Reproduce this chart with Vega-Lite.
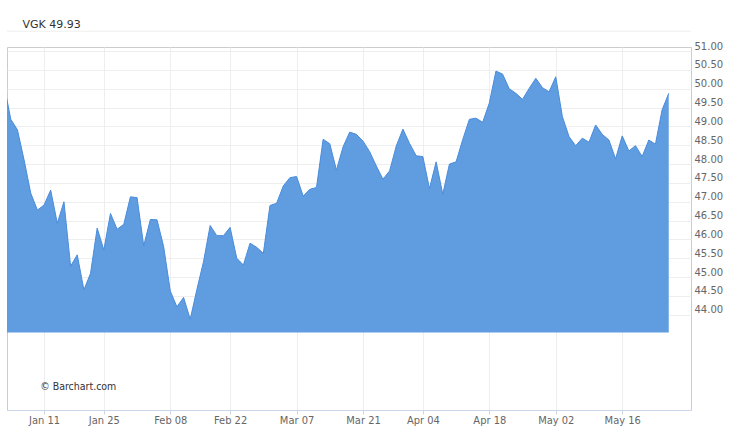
{
  "$schema": "https://vega.github.io/schema/vega-lite/v6.json",
  "width": 684,
  "height": 363,
  "autosize": {"type": "none"},
  "padding": {"left": 7, "top": 47, "right": 59, "bottom": 23},
  "background": "white",
  "config": {
    "view": {"stroke": "#cccccc", "strokeWidth": 1},
    "axis": {"labelFont": "DejaVu Sans", "labelColor": "#666666"},
    "axisX": {
      "title": null,
      "grid": true,
      "gridColor": "#eeeeee",
      "tickColor": "#ccd6eb",
      "tickSize": 4,
      "domainColor": "#ccd6eb",
      "labelFont": "DejaVu Sans Condensed",
      "labelFontSize": 11,
      "labelPadding": 0,
      "labelFlush": false,
      "labelOverlap": false
    },
    "axisY": {
      "title": null,
      "orient": "right",
      "grid": true,
      "gridColor": "#eeeeee",
      "ticks": false,
      "domain": false,
      "labelAlign": "left",
      "labelBaseline": "bottom",
      "labelPadding": 3,
      "labelFontSize": 10,
      "labelOverlap": false
    }
  },
  "title": {
    "text": "VGK 49.93",
    "anchor": "start",
    "frame": "group",
    "dx": 15.5,
    "offset": 1,
    "font": "DejaVu Sans",
    "fontSize": 11,
    "fontWeight": "normal",
    "color": "#333333"
  },
  "encoding": {
    "x": {
      "field": "t",
      "type": "quantitative",
      "scale": {"domain": [-0.57, 102.35], "nice": false, "zero": false},
      "axis": {
        "orient": "bottom",
        "values": [5, 14, 24, 33, 43, 53, 62, 72, 82, 92],
        "labelExpr": "['Jan 11','Jan 25','Feb 08','Feb 22','Mar 07','Mar 21','Apr 04','Apr 18','May 02','May 16'][indexof([5,14,24,33,43,53,62,72,82,92], datum.value)]"
      }
    },
    "y": {
      "field": "close",
      "type": "quantitative",
      "scale": {"domain": [41.47, 51.11], "nice": false, "zero": false},
      "axis": {
        "orient": "right",
        "values": [44, 44.5, 45, 45.5, 46, 46.5, 47, 47.5, 48, 48.5, 49, 49.5, 50, 50.5, 51],
        "format": ".2f"
      }
    }
  },
  "data": {
    "values": [
      {"date": "2015-12-31", "t": -1, "close": 50.09},
      {"date": "2016-01-04", "t": 0, "close": 49.19},
      {"date": "2016-01-05", "t": 1, "close": 48.91},
      {"date": "2016-01-06", "t": 2, "close": 48.11},
      {"date": "2016-01-07", "t": 3, "close": 47.23},
      {"date": "2016-01-08", "t": 4, "close": 46.78},
      {"date": "2016-01-11", "t": 5, "close": 46.91},
      {"date": "2016-01-12", "t": 6, "close": 47.31},
      {"date": "2016-01-13", "t": 7, "close": 46.43},
      {"date": "2016-01-14", "t": 8, "close": 47.0},
      {"date": "2016-01-15", "t": 9, "close": 45.29},
      {"date": "2016-01-19", "t": 10, "close": 45.59},
      {"date": "2016-01-20", "t": 11, "close": 44.66},
      {"date": "2016-01-21", "t": 12, "close": 45.1},
      {"date": "2016-01-22", "t": 13, "close": 46.3},
      {"date": "2016-01-25", "t": 14, "close": 45.72},
      {"date": "2016-01-26", "t": 15, "close": 46.69},
      {"date": "2016-01-27", "t": 16, "close": 46.27},
      {"date": "2016-01-28", "t": 17, "close": 46.4},
      {"date": "2016-01-29", "t": 18, "close": 47.13},
      {"date": "2016-02-01", "t": 19, "close": 47.11},
      {"date": "2016-02-02", "t": 20, "close": 45.83},
      {"date": "2016-02-03", "t": 21, "close": 46.53},
      {"date": "2016-02-04", "t": 22, "close": 46.52},
      {"date": "2016-02-05", "t": 23, "close": 45.81},
      {"date": "2016-02-08", "t": 24, "close": 44.63},
      {"date": "2016-02-09", "t": 25, "close": 44.21},
      {"date": "2016-02-10", "t": 26, "close": 44.46},
      {"date": "2016-02-11", "t": 27, "close": 43.88},
      {"date": "2016-02-12", "t": 28, "close": 44.67},
      {"date": "2016-02-16", "t": 29, "close": 45.41},
      {"date": "2016-02-17", "t": 30, "close": 46.37},
      {"date": "2016-02-18", "t": 31, "close": 46.1},
      {"date": "2016-02-19", "t": 32, "close": 46.1},
      {"date": "2016-02-22", "t": 33, "close": 46.32},
      {"date": "2016-02-23", "t": 34, "close": 45.5},
      {"date": "2016-02-24", "t": 35, "close": 45.32},
      {"date": "2016-02-25", "t": 36, "close": 45.9},
      {"date": "2016-02-26", "t": 37, "close": 45.79},
      {"date": "2016-02-29", "t": 38, "close": 45.63},
      {"date": "2016-03-01", "t": 39, "close": 46.9},
      {"date": "2016-03-02", "t": 40, "close": 46.96},
      {"date": "2016-03-03", "t": 41, "close": 47.42},
      {"date": "2016-03-04", "t": 42, "close": 47.64},
      {"date": "2016-03-07", "t": 43, "close": 47.67},
      {"date": "2016-03-08", "t": 44, "close": 47.15},
      {"date": "2016-03-09", "t": 45, "close": 47.33},
      {"date": "2016-03-10", "t": 46, "close": 47.38},
      {"date": "2016-03-11", "t": 47, "close": 48.66},
      {"date": "2016-03-14", "t": 48, "close": 48.54},
      {"date": "2016-03-15", "t": 49, "close": 47.84},
      {"date": "2016-03-16", "t": 50, "close": 48.46},
      {"date": "2016-03-17", "t": 51, "close": 48.85},
      {"date": "2016-03-18", "t": 52, "close": 48.79},
      {"date": "2016-03-21", "t": 53, "close": 48.61},
      {"date": "2016-03-22", "t": 54, "close": 48.33},
      {"date": "2016-03-23", "t": 55, "close": 47.95},
      {"date": "2016-03-24", "t": 56, "close": 47.6},
      {"date": "2016-03-28", "t": 57, "close": 47.82},
      {"date": "2016-03-29", "t": 58, "close": 48.48},
      {"date": "2016-03-30", "t": 59, "close": 48.93},
      {"date": "2016-03-31", "t": 60, "close": 48.55},
      {"date": "2016-04-01", "t": 61, "close": 48.22},
      {"date": "2016-04-04", "t": 62, "close": 48.2},
      {"date": "2016-04-05", "t": 63, "close": 47.35},
      {"date": "2016-04-06", "t": 64, "close": 48.06},
      {"date": "2016-04-07", "t": 65, "close": 47.2},
      {"date": "2016-04-08", "t": 66, "close": 48.0},
      {"date": "2016-04-11", "t": 67, "close": 48.06},
      {"date": "2016-04-12", "t": 68, "close": 48.65},
      {"date": "2016-04-13", "t": 69, "close": 49.19},
      {"date": "2016-04-14", "t": 70, "close": 49.22},
      {"date": "2016-04-15", "t": 71, "close": 49.11},
      {"date": "2016-04-18", "t": 72, "close": 49.62},
      {"date": "2016-04-19", "t": 73, "close": 50.47},
      {"date": "2016-04-20", "t": 74, "close": 50.39},
      {"date": "2016-04-21", "t": 75, "close": 50.0},
      {"date": "2016-04-22", "t": 76, "close": 49.88},
      {"date": "2016-04-25", "t": 77, "close": 49.72},
      {"date": "2016-04-26", "t": 78, "close": 50.01},
      {"date": "2016-04-27", "t": 79, "close": 50.28},
      {"date": "2016-04-28", "t": 80, "close": 50.03},
      {"date": "2016-04-29", "t": 81, "close": 49.92},
      {"date": "2016-05-02", "t": 82, "close": 50.32},
      {"date": "2016-05-03", "t": 83, "close": 49.26},
      {"date": "2016-05-04", "t": 84, "close": 48.73},
      {"date": "2016-05-05", "t": 85, "close": 48.49},
      {"date": "2016-05-06", "t": 86, "close": 48.69},
      {"date": "2016-05-09", "t": 87, "close": 48.58},
      {"date": "2016-05-10", "t": 88, "close": 49.04},
      {"date": "2016-05-11", "t": 89, "close": 48.79},
      {"date": "2016-05-12", "t": 90, "close": 48.64},
      {"date": "2016-05-13", "t": 91, "close": 48.14},
      {"date": "2016-05-16", "t": 92, "close": 48.75},
      {"date": "2016-05-17", "t": 93, "close": 48.35},
      {"date": "2016-05-18", "t": 94, "close": 48.49},
      {"date": "2016-05-19", "t": 95, "close": 48.2},
      {"date": "2016-05-20", "t": 96, "close": 48.64},
      {"date": "2016-05-23", "t": 97, "close": 48.53},
      {"date": "2016-05-24", "t": 98, "close": 49.44},
      {"date": "2016-05-25", "t": 99, "close": 49.88}
    ]
  },
  "layer": [
    {
      "mark": {"type": "area", "clip": true, "color": "#5f9ce0", "opacity": 1},
      "encoding": {"y2": {"datum": 43.53}}
    },
    {
      "mark": {"type": "line", "clip": true, "color": "#4a8cdc", "strokeWidth": 1},
      "encoding": {}
    },
    {
      "data": {"values": [{"level": 51.53}]},
      "mark": {"type": "rule", "color": "#eeeeee", "strokeWidth": 1},
      "encoding": {
        "x": null,
        "y": {"field": "level", "type": "quantitative"}
      }
    },
    {
      "data": {"values": [{"label": "© Barchart.com", "t": 4.43, "close": 42.08}]},
      "mark": {"type": "text", "align": "left", "baseline": "middle", "font": "DejaVu Sans Condensed", "fontSize": 10.5, "color": "#333333"},
      "encoding": {"text": {"field": "label"}}
    }
  ]
}
